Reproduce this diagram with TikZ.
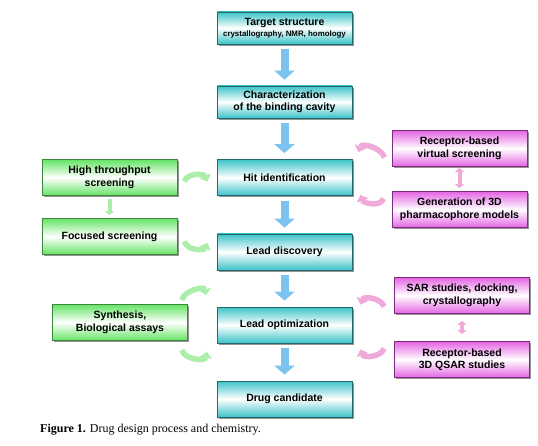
\documentclass[tikz,border=0pt]{standalone}
\usepackage{fontspec}
\setmainfont{Liberation Sans}
\newfontfamily\captionfont{Liberation Serif}
\usetikzlibrary{arrows.meta,shadows}

\definecolor{tealtop}{RGB}{60,195,200}
\definecolor{tealline}{RGB}{35,105,110}
\definecolor{greentop}{RGB}{100,228,100}
\definecolor{greenline}{RGB}{60,135,60}
\definecolor{pinktop}{RGB}{228,100,228}
\definecolor{pinkline}{RGB}{125,45,125}
\definecolor{arrowblue}{RGB}{125,195,240}
\definecolor{arcgreen}{RGB}{170,238,170}
\definecolor{arcpink}{RGB}{240,170,218}

\tikzset{
  box/.style={draw, line width=0.8pt, minimum width=135pt, minimum height=36pt,
    align=center, font=\bfseries\fontsize{10.5}{12.5}\selectfont,
    drop shadow={shadow xshift=1.6pt, shadow yshift=-1.6pt, fill=black!70, opacity=0.6}},
  stepmain/.style={box, draw=tealline, top color=tealtop, bottom color=tealtop, middle color=white},
  stepleft/.style={box, draw=greenline, top color=greentop, bottom color=greentop, middle color=white},
  stepright/.style={box, draw=pinkline, top color=pinktop, bottom color=pinktop, middle color=white},
  bluearrow/.style={line width=8pt, arrowblue, -{Triangle[width=20pt,length=9pt]},
    shorten <=5pt, shorten >=6pt},
  greenarc/.style={line width=5.5pt, arcgreen, -{Triangle[width=12pt,length=6pt]}},
  pinkarc/.style={line width=5.5pt, arcpink, -{Triangle[width=12pt,length=6pt]}}
}

\begin{document}
\begin{tikzpicture}[x=1pt,y=1pt]
    % page frame
    \useasboundingbox[fill=white] (0,0) rectangle (538,445);

    % main column
    \node[stepmain, minimum height=32pt] (target) at (284.5,417)
        {Target structure\\[-1pt]{\fontsize{7.9}{9}\selectfont crystallography, NMR, homology}};
    \node[stepmain, minimum height=32pt] (cavity) at (284.5,343) {Characterization\\of the binding cavity};
    \node[stepmain] (hit) at (284.5,267.5) {Hit identification};
    \node[stepmain] (discovery) at (284.5,193) {Lead discovery};
    \node[stepmain] (optim) at (284.5,120) {Lead optimization};
    \node[stepmain] (drug) at (284.5,46) {Drug candidate};

    % left column
    \node[stepleft] (hts) at (109.5,267.5) {High throughput\\screening};
    \node[stepleft] (focused) at (109.5,208.5) {Focused screening};
    \node[stepleft] (synth) at (120,122.5) {Synthesis,\\Biological assays};

    % right column
    \node[stepright] (virtual) at (459.5,296.5) {Receptor-based\\virtual screening};
    \node[stepright] (pharma) at (459.5,235.5) {Generation of 3D\\pharmacophore models};
    \node[stepright] (sar) at (462,149.5) {SAR studies, docking,\\crystallography};
    \node[stepright] (qsar) at (462,85.5) {Receptor-based\\3D QSAR studies};

    % blue arrows down the main column
    \draw[bluearrow] (target) -- (cavity);
    \draw[bluearrow] (cavity) -- (hit);
    \draw[bluearrow] (hit) -- (discovery);
    \draw[bluearrow] (discovery) -- (optim);
    \draw[bluearrow] (optim) -- (drug);

    % green loops
    \draw[greenarc] ([xshift=7pt,yshift=-4pt]hts.east) to[out=75,in=115] ([xshift=-9pt,yshift=-4pt]hit.west);
    \draw[greenarc] ([xshift=7pt,yshift=-5pt]focused.east) to[out=-75,in=-115] ([xshift=-9pt,yshift=9pt]discovery.west);
    \draw[greenarc] ([xshift=-6pt,yshift=4pt]synth.north east) to[out=80,in=100] ([xshift=18pt,yshift=9pt]synth.north east);
    \draw[greenarc] ([xshift=-6pt,yshift=-9pt]synth.south east) to[out=-80,in=-100] ([xshift=19pt,yshift=-11pt]synth.south east);
    \draw[arcgreen, line width=4pt, -{Triangle[width=9pt,length=4pt]}, shorten <=3pt, shorten >=3pt] (hts) -- (focused);

    % pink loops
    \draw[pinkarc] ([xshift=-7pt,yshift=-9pt]virtual.west) to[out=110,in=70] ([xshift=6pt,yshift=7pt]hit.north east);
    \draw[pinkarc] ([xshift=-8pt,yshift=11pt]pharma.west) to[out=-110,in=-70] ([xshift=8pt,yshift=1pt]hit.south east);
    \draw[pinkarc] ([xshift=-10pt,yshift=-11pt]sar.west) to[out=110,in=70] ([xshift=8pt,yshift=2pt]optim.north east);
    \draw[pinkarc] ([xshift=-10pt,yshift=11pt]qsar.west) to[out=-110,in=-70] ([xshift=8pt,yshift=-6pt]optim.south east);
    \draw[arcpink, line width=4pt, {Triangle[width=9pt,length=4pt]}-{Triangle[width=9pt,length=4pt]}, shorten <=1pt, shorten >=3pt] (virtual) -- (pharma);
    \draw[arcpink, line width=4pt, {Triangle[width=9pt,length=4pt]}-{Triangle[width=9pt,length=4pt]}, shorten <=7pt, shorten >=7pt] (sar) -- (qsar);

    % caption
    \node[anchor=west, inner sep=0pt, font=\captionfont\fontsize{12}{14}\selectfont] (caption) at (40,15)
        {\textbf{Figure 1.} Drug design process and chemistry.};
\end{tikzpicture}
\end{document}
